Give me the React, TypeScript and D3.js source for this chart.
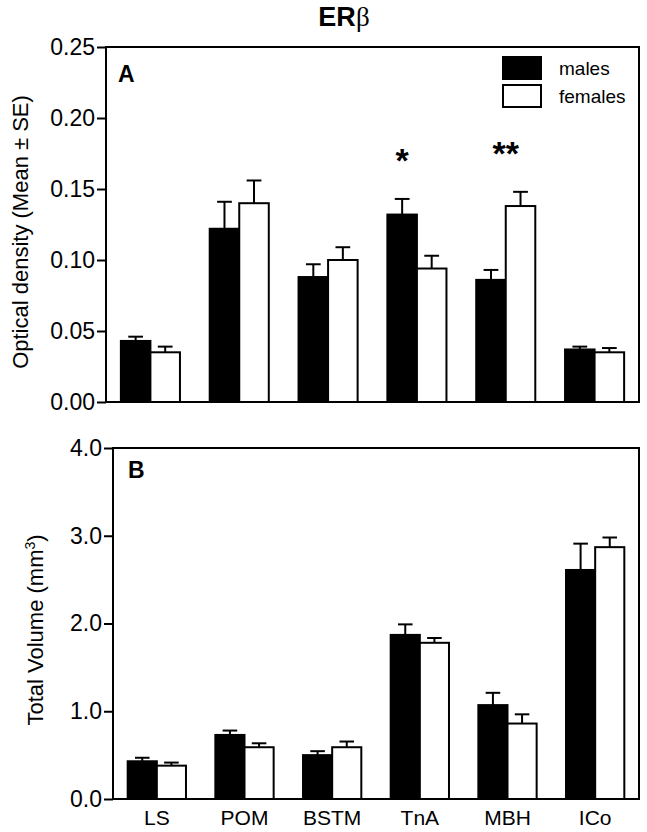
import React, { useRef, useEffect } from "react";
import * as d3 from "d3";

const width = 647;
const height = 832;
const font = "'Liberation Sans', Arial, sans-serif";

const categories = ["LS", "POM", "BSTM", "TnA", "MBH", "ICo"];
const groups = ["males", "females"];

// panel A: optical density
const densityMales = [0.043, 0.122, 0.088, 0.132, 0.086, 0.037];
const densityMalesSE = [0.003, 0.019, 0.009, 0.011, 0.007, 0.002];
const densityFemales = [0.035, 0.14, 0.1, 0.094, 0.138, 0.035];
const densityFemalesSE = [0.004, 0.016, 0.009, 0.009, 0.01, 0.003];
const densityTicks = [0, 0.05, 0.1, 0.15, 0.2, 0.25];

// panel B: total volume
const volumeMales = [0.43, 0.73, 0.5, 1.87, 1.07, 2.61];
const volumeMalesSE = [0.04, 0.05, 0.045, 0.12, 0.14, 0.3];
const volumeFemales = [0.38, 0.59, 0.59, 1.78, 0.86, 2.87];
const volumeFemalesSE = [0.035, 0.045, 0.065, 0.055, 0.105, 0.11];
const volumeTicks = [0, 1, 2, 3, 4];

// significance marks on panel A
const marks = [
  { category: "TnA", label: "*", over: "males", value: 0.162 },
  { category: "MBH", label: "**", over: "both", value: 0.167 },
];

function drawPanel(svg, opts) {
  const { left, top, bottom, right, max, ticks, fmt, males, malesSE, females, femalesSE } = opts;
  const g = svg.append("g");

  const x = d3
    .scaleBand()
    .domain(categories)
    .range([left, right])
    .paddingInner(0.335)
    .paddingOuter(0.1675);
  const xs = d3.scaleBand().domain(groups).range([0, x.bandwidth()]);
  const y = d3.scaleLinear().domain([0, max]).range([bottom, top]);

  const rows = [];
  categories.forEach((c, i) => {
    rows.push({ c, grp: "males", v: males[i], se: malesSE[i] });
    rows.push({ c, grp: "females", v: females[i], se: femalesSE[i] });
  });

  // error bars (upper only)
  const eb = g.selectAll(".eb").data(rows).enter().append("g");
  eb.append("line")
    .attr("x1", d => x(d.c) + xs(d.grp) + xs.bandwidth() / 2)
    .attr("x2", d => x(d.c) + xs(d.grp) + xs.bandwidth() / 2)
    .attr("y1", d => y(d.v))
    .attr("y2", d => y(d.v + d.se))
    .attr("stroke", "#000")
    .attr("stroke-width", 2);
  eb.append("line")
    .attr("x1", d => x(d.c) + xs(d.grp) + xs.bandwidth() / 4)
    .attr("x2", d => x(d.c) + xs(d.grp) + (xs.bandwidth() * 3) / 4)
    .attr("y1", d => y(d.v + d.se))
    .attr("y2", d => y(d.v + d.se))
    .attr("stroke", "#000")
    .attr("stroke-width", 2);

  g.selectAll(".bar")
    .data(rows)
    .enter()
    .append("rect")
    .attr("x", d => x(d.c) + xs(d.grp))
    .attr("y", d => y(d.v))
    .attr("width", xs.bandwidth())
    .attr("height", d => y(0) - y(d.v))
    .attr("fill", d => (d.grp === "males" ? "#000" : "#fff"))
    .attr("stroke", "#000")
    .attr("stroke-width", 2);

  // frame
  g.append("rect")
    .attr("x", left)
    .attr("y", top)
    .attr("width", right - left)
    .attr("height", bottom - top)
    .attr("fill", "none")
    .attr("stroke", "#000")
    .attr("stroke-width", 2);

  const axis = g
    .append("g")
    .attr("transform", `translate(${left},0)`)
    .call(d3.axisLeft(y).tickValues(ticks).tickFormat(d3.format(fmt)).tickSize(9).tickPadding(2));
  axis.select(".domain").remove();
  axis.selectAll("line").attr("stroke-width", 2);
  axis.selectAll("text").style("font-family", font).style("font-size", "23px").attr("fill", "#000");

  return { x, xs, y, g };
}

const App = () => {
  const ref = useRef();

  useEffect(() => {
    const svg = d3.select(ref.current);
    svg.selectAll("*").remove();
    svg.attr("width", width).attr("height", height);

    // title
    const title = svg
      .append("text")
      .attr("x", 344)
      .attr("y", 26)
      .attr("text-anchor", "middle")
      .style("font-family", font)
      .style("font-size", "27px")
      .style("font-weight", "bold");
    title.append("tspan").text("ER");
    title
      .append("tspan")
      .style("font-family", "'Liberation Serif', serif")
      .style("font-weight", "normal")
      .text("β");

    // panel A
    const a = drawPanel(svg, {
      left: 106, right: 639, top: 47, bottom: 402, max: 0.25, ticks: densityTicks, fmt: ".2f",
      males: densityMales, malesSE: densityMalesSE, females: densityFemales, femalesSE: densityFemalesSE,
    });

    marks.forEach(m => {
      const cx = m.over === "males"
        ? a.x(m.category) + a.xs("males") + a.xs.bandwidth() / 2
        : a.x(m.category) + a.x.bandwidth() / 2;
      svg.append("text")
        .attr("x", cx)
        .attr("y", a.y(m.value))
        .attr("text-anchor", "middle")
        .style("font-family", font)
        .style("font-size", "34px")
        .style("font-weight", "bold")
        .text(m.label);
    });

    svg.append("text")
      .attr("x", 118).attr("y", 82)
      .style("font-family", font).style("font-size", "23px").style("font-weight", "bold")
      .text("A");

    svg.append("text")
      .attr("transform", "translate(28,232) rotate(-90)")
      .attr("text-anchor", "middle")
      .style("font-family", font).style("font-size", "22px")
      .text("Optical density (Mean ± SE)");

    // legend
    const legend = svg.append("g");
    groups.forEach((grp, i) => {
      legend.append("rect")
        .attr("x", 503).attr("y", 57 + i * 28)
        .attr("width", 38).attr("height", 22)
        .attr("fill", grp === "males" ? "#000" : "#fff")
        .attr("stroke", "#000").attr("stroke-width", 2);
      legend.append("text")
        .attr("x", 559).attr("y", 75 + i * 28)
        .style("font-family", font).style("font-size", "19px")
        .text(grp);
    });

    // panel B
    const b = drawPanel(svg, {
      left: 113, right: 639, top: 448, bottom: 799, max: 4, ticks: volumeTicks, fmt: ".1f",
      males: volumeMales, malesSE: volumeMalesSE, females: volumeFemales, femalesSE: volumeFemalesSE,
    });

    svg.append("text")
      .attr("x", 128).attr("y", 478)
      .style("font-family", font).style("font-size", "23px").style("font-weight", "bold")
      .text("B");

    const yl = svg.append("text")
      .attr("transform", "translate(43,630) rotate(-90)")
      .attr("text-anchor", "middle")
      .style("font-family", font).style("font-size", "22px");
    yl.append("tspan").text("Total Volume (mm");
    yl.append("tspan").attr("baseline-shift", "super").style("font-size", "14px").text("3");
    yl.append("tspan").text(")");

    // category labels
    svg.append("g")
      .selectAll("text")
      .data(categories)
      .enter()
      .append("text")
      .attr("x", d => b.x(d) + b.x.bandwidth() / 2)
      .attr("y", 825)
      .attr("text-anchor", "middle")
      .style("font-family", font).style("font-size", "21px")
      .text(d => d);
  }, []);

  return (
    <div style={{ position: "absolute", left: 0, top: 0 }}>
      <svg ref={ref} />
    </div>
  );
};

export default App;
